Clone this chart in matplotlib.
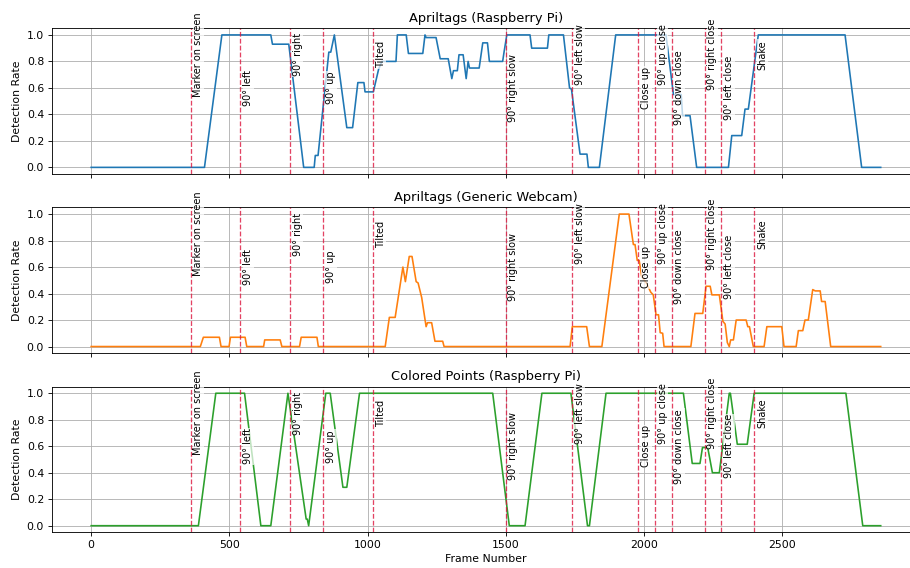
import matplotlib
matplotlib.use("Agg")
import matplotlib.pyplot as plt

# ---- data ----
event_frames = [360, 540, 720, 840, 1020, 1500, 1740, 1980, 2040, 2100, 2220, 2280, 2400]
event_labels = ["Marker on screen", "90° left", "90° right", "90° up", "Tilted",
                "90° right slow", "90° left slow", "Close up", "90° up close",
                "90° down close", "90° right close", "90° left close", "Shake"]

pi_tags_x = [0, 410, 473, 650, 656, 715, 769, 807, 811, 821, 860, 867, 880, 925, 946, 965, 987,
             991, 1021, 1040, 1052, 1103, 1108, 1140, 1148, 1200, 1208, 1212, 1248, 1263, 1292,
             1305, 1311, 1325, 1331, 1346, 1357, 1364, 1369, 1404, 1417, 1434, 1441, 1489, 1494,
             1504, 1588, 1594, 1651, 1656, 1709, 1731, 1738, 1769, 1794, 1799, 1839, 1898, 2080,
             2107, 2135, 2140, 2167, 2191, 2306, 2318, 2354, 2366, 2378, 2414, 2728, 2788, 2857]
pi_tags_y = [0, 0, 1.0, 1.0, 0.93, 0.93, 0, 0, 0.09, 0.09, 0.87, 0.87, 1.0, 0.3, 0.3, 0.64, 0.64,
             0.57, 0.57, 0.74, 0.8, 0.8, 1.0, 1.0, 0.86, 0.86, 1.0, 0.98, 0.98, 0.82, 0.82,
             0.67, 0.73, 0.73, 0.85, 0.85, 0.67, 0.8, 0.75, 0.75, 0.94, 0.94, 0.8, 0.8, 0.87,
             1.0, 1.0, 0.9, 0.9, 1.0, 1.0, 0.6, 0.59, 0.1, 0.1, 0, 0, 1.0, 1.0,
             0.55, 0.55, 0.39, 0.39, 0, 0, 0.24, 0.24, 0.44, 0.44, 1.0, 1.0, 0, 0]

cam_tags_x = [0, 395, 406, 464, 470, 499, 504, 557, 563, 624, 628, 684, 690, 754, 760, 817, 822,
              1064, 1079, 1100, 1128, 1137, 1151, 1161, 1176, 1183, 1196, 1212, 1217, 1232, 1244,
              1272, 1277, 1733, 1741, 1793, 1803, 1848, 1911, 1946, 1962, 1968, 1976, 1983, 1992,
              2010, 2025, 2034, 2044, 2053, 2059, 2068, 2073, 2170, 2185, 2213, 2225, 2240, 2246,
              2273, 2286, 2294, 2302, 2309, 2314, 2324, 2334, 2370, 2376, 2382, 2396, 2435, 2445,
              2499, 2507, 2551, 2559, 2575, 2583, 2595, 2611, 2620, 2638, 2643, 2656, 2676, 2857]
cam_tags_y = [0, 0, 0.07, 0.07, 0, 0, 0.07, 0.07, 0, 0, 0.05, 0.05, 0, 0, 0.07, 0.07, 0,
              0, 0.22, 0.22, 0.6, 0.49, 0.68, 0.68, 0.49, 0.48, 0.37, 0.15, 0.18, 0.18, 0.04,
              0.04, 0, 0, 0.15, 0.15, 0, 0, 1.0, 1.0, 0.77, 0.77, 0.65, 0.65, 0.53,
              0.475, 0.41, 0.39, 0.24, 0.24, 0.105, 0.1, 0, 0, 0.25, 0.25, 0.455, 0.455, 0.39,
              0.39, 0.19, 0.17, 0.03, 0, 0.05, 0.05, 0.2, 0.2, 0.15, 0.15, 0, 0, 0.15,
              0.15, 0, 0, 0.12, 0.12, 0.2, 0.2, 0.43, 0.42, 0.42, 0.34, 0.34, 0, 0]

pi_pts_x = [0, 388, 451, 555, 614, 650, 712, 778, 782, 787, 849, 865, 911, 925, 971, 1453, 1513,
            1570, 1631, 1736, 1796, 1803, 1863, 2143, 2175, 2203, 2212, 2231, 2248, 2273, 2309,
            2313, 2338, 2374, 2399, 2731, 2792, 2857]
pi_pts_y = [0, 0, 1.0, 1.0, 0, 0, 1.0, 0.05, 0.05, 0, 1.0, 1.0, 0.29, 0.29, 1.0, 1.0, 0,
            0, 1.0, 1.0, 0, 0, 1.0, 1.0, 0.47, 0.47, 0.59, 0.59, 0.4, 0.4, 1.0,
            1.0, 0.615, 0.615, 1.0, 1.0, 0, 0]

titles = ["Apriltags (Raspberry Pi)", "Apriltags (Generic Webcam)", "Colored Points (Raspberry Pi)"]
series = [(pi_tags_x, pi_tags_y), (cam_tags_x, cam_tags_y), (pi_pts_x, pi_pts_y)]
colors = ["tab:blue", "tab:orange", "tab:green"]

DPI = 78
fig, axes = plt.subplots(3, 1, sharex=True, figsize=(910 / DPI, 568 / DPI), dpi=DPI)
fig.subplots_adjust(left=0.0568, right=1.0112, top=0.9502, bottom=0.0628, hspace=0.2296)

for ax, (xs, ys), title, color in zip(axes, series, titles, colors):
    ax.plot(xs, ys, color=color, linewidth=1.5)
    for i, (f, lab) in enumerate(zip(event_frames, event_labels)):
        ax.axvline(f, color="crimson", linestyle="--", linewidth=1.2, alpha=0.8)
        ax.text(f + 10, 0.85 if i % 2 == 0 else 0.6, lab, rotation=90, va="center", ha="left",
                fontsize=9, bbox=dict(facecolor="white", alpha=0.7, edgecolor="none", pad=0.5))
    ax.set_title(title)
    ax.set_ylabel("Detection Rate")
    ax.grid(True)

axes[-1].set_xlabel("Frame Number")
fig.savefig("out.png", dpi=DPI)
